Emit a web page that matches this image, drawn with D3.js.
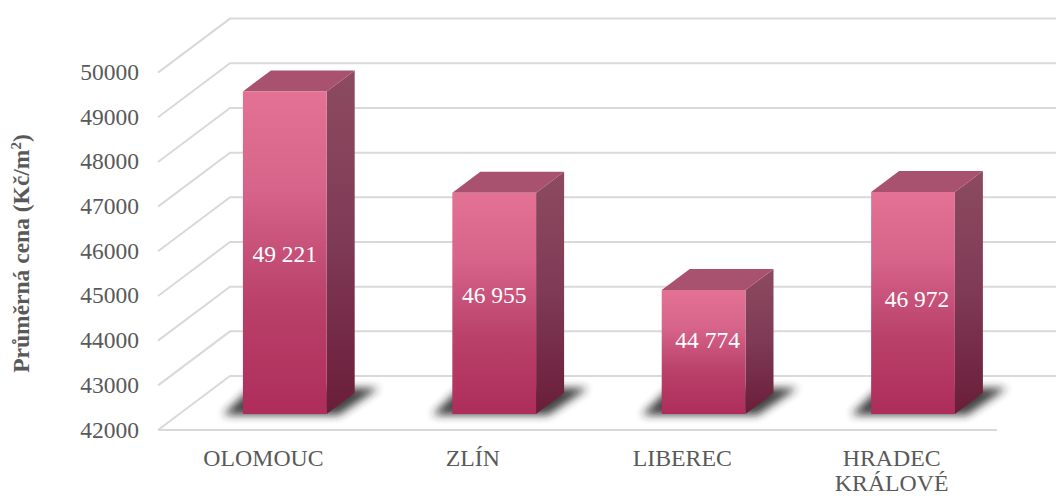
<!DOCTYPE html>
<html>
<head>
<meta charset="utf-8">
<script src="https://cdn.jsdelivr.net/npm/d3@7"></script>
<style>
  html, body { margin: 0; padding: 0; background: #fff; }
  text { font-family: "Liberation Serif", serif; }
</style>
</head>
<body>
<script>
var cities = ["OLOMOUC", "ZLÍN", "LIBEREC", "HRADEC KRÁLOVÉ"];
var prices = [49221, 46955, 44774, 46972];
var priceLabels = ["49 221", "46 955", "44 774", "46 972"];
var yTicks = [42000, 43000, 44000, 45000, 46000, 47000, 48000, 49000, 50000];

var width = 1056, height = 496;
var depthX = 72, depthY = -54;      // full floor depth
var barFront = 0.296, barBack = 0.685; // where the bars sit on the floor
var labelNudge = [[0, 1], [0, -8], [4, -12], [4, -4]]; // labels were hand placed in the original

var svg = d3.select("body").append("svg")
    .attr("width", width)
    .attr("height", height)
    .style("display", "block");

var y = d3.scaleLinear().domain([42000, 50000]).range([430, 72.6]);
var x = d3.scaleBand().domain(cities).range([158.8, 996.4]).paddingInner(0.6).paddingOuter(0.3);

var defs = svg.append("defs");

function gradient(id, stops) {
    var g = defs.append("linearGradient").attr("id", id)
        .attr("x1", 0).attr("y1", 0).attr("x2", 0).attr("y2", 1);
    stops.forEach(function (s) {
        g.append("stop").attr("offset", s[0]).attr("stop-color", s[1]);
    });
}
gradient("frontFill", [[0, "#e37295"], [0.3, "#d7648a"], [0.65, "#b9416a"], [1, "#ae2d5a"]]);
gradient("sideFill", [[0, "#8c4b60"], [0.5, "#7f3a55"], [1, "#6a1d39"]]);

defs.append("filter").attr("id", "blur")
    .attr("x", "-20%").attr("y", "-50%").attr("width", "140%").attr("height", "200%")
    .append("feGaussianBlur").attr("stdDeviation", 4.5);

// back wall and side wall gridlines
var grid = svg.append("g").attr("fill", "none").attr("stroke", "#d9d9d9").attr("stroke-width", 2);
yTicks.forEach(function (t, i) {
    var pts = [[158, y(t)], [158 + depthX, y(t) + depthY], [width, y(t) + depthY]];
    grid.append("path").attr("d", d3.line()(pts));
});
grid.append("line").attr("x1", 158).attr("x2", 997).attr("y1", y(42000)).attr("y2", y(42000));

var bars = svg.selectAll(".bar").data(cities).enter().append("g").attr("class", "bar");

function project(i, along, depth, val) {
    // along is 0 or 1 across the bar width, depth is share of the floor depth
    return [x(cities[i]) + along * x.bandwidth() + depth * depthX,
            y(val) + depth * depthY];
}
function face(points) {
    return d3.line()(points);
}

bars.append("path")
    .attr("fill", "#222")
    .attr("opacity", 0.85)
    .attr("filter", "url(#blur)")
    .attr("d", function (d, i) {
        var p = project(i, 0, barFront, 42000), w = x.bandwidth();
        return face([[p[0] - 20, p[1] + 1], [p[0] + w + 12, p[1] + 1],
                     [p[0] + w + 52, p[1] - 26], [p[0] + 8, p[1] - 26]]);
    });

bars.append("path")
    .attr("fill", "url(#sideFill)")
    .attr("d", function (d, i) {
        return face([project(i, 1, barFront, prices[i]), project(i, 1, barBack, prices[i]),
                     project(i, 1, barBack, 42000), project(i, 1, barFront, 42000)]);
    });

bars.append("path")
    .attr("fill", "#a9526f")
    .attr("d", function (d, i) {
        return face([project(i, 0, barFront, prices[i]), project(i, 0, barBack, prices[i]),
                     project(i, 1, barBack, prices[i]), project(i, 1, barFront, prices[i])]);
    });

bars.append("path")
    .attr("fill", "url(#frontFill)")
    .attr("d", function (d, i) {
        return face([project(i, 0, barFront, prices[i]), project(i, 1, barFront, prices[i]),
                     project(i, 1, barFront, 42000), project(i, 0, barFront, 42000)]);
    });

// value labels, roughly the middle of the front face
bars.append("text")
    .attr("x", function (d, i) { return project(i, 0.5, barFront, 42000)[0] + labelNudge[i][0]; })
    .attr("y", function (d, i) {
        return (project(i, 0, barFront, 42000)[1] + project(i, 0, barFront, prices[i])[1]) / 2 + 8 + labelNudge[i][1];
    })
    .attr("text-anchor", "middle")
    .attr("fill", "#fff")
    .style("font-size", "23.5px")
    .text(function (d, i) { return priceLabels[i]; });

// y tick labels
svg.append("g").selectAll("text").data(yTicks).enter().append("text")
    .attr("x", 139)
    .attr("y", function (d) { return y(d) + 7.5; })
    .attr("text-anchor", "end")
    .attr("fill", "#595959")
    .style("font-size", "23.5px")
    .text(function (d) { return d; });

// category labels, the last one wraps
var cat = svg.append("g").selectAll("text").data(cities).enter().append("text")
    .attr("text-anchor", "middle")
    .attr("fill", "#595959")
    .style("font-size", "23.8px");
cat.each(function (d) {
    var cx = x(d) + x.bandwidth() / 2;
    d3.select(this).selectAll("tspan").data(d.split(" ")).enter().append("tspan")
        .attr("x", cx)
        .attr("y", function (w, i) { return 465.5 + i * 25; })
        .text(function (w) { return w; });
});

var title = svg.append("text")
    .attr("transform", "translate(28.5,253.5) rotate(-90)")
    .attr("text-anchor", "middle")
    .attr("fill", "#595959")
    .style("font-size", "23.5px")
    .style("font-weight", "bold");
title.append("tspan").text("Průměrná cena (Kč/m");
title.append("tspan").attr("dy", -8).style("font-size", "15px").text("2");
title.append("tspan").attr("dy", 8).text(")");
</script>
</body>
</html>
